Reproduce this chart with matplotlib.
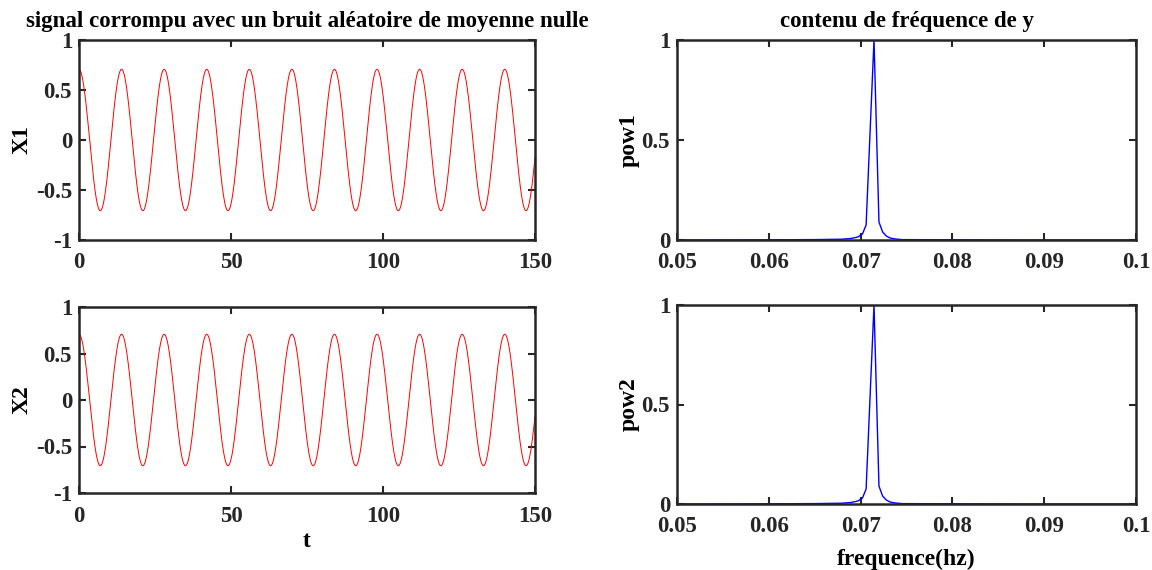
import numpy as np
import matplotlib
matplotlib.use("Agg")
import matplotlib.pyplot as plt

# ---- data ----
t_start, t_end, t_step = 0.0, 150.0, 0.05
amp1, freq1 = 0.707, 0.0714     # X1 sinusoid parameters
amp2, freq2 = 0.707, 0.0714     # X2 sinusoid parameters

spec_freq = [0.05, 0.060, 0.065, 0.068, 0.0690, 0.0697, 0.0702, 0.0706, 0.07146,
             0.0720, 0.0724, 0.0728, 0.0732, 0.0738, 0.0745, 0.080, 0.090, 0.1]
pow1 = [0.0, 0.001, 0.002, 0.004, 0.008, 0.015, 0.03, 0.075, 1.0,
        0.09, 0.04, 0.02, 0.01, 0.005, 0.002, 0.001, 0.0, 0.0]
pow2 = [0.0, 0.001, 0.002, 0.004, 0.008, 0.015, 0.03, 0.075, 1.0,
        0.09, 0.04, 0.02, 0.01, 0.005, 0.002, 0.001, 0.0, 0.0]

left_xticks = [0, 50, 100, 150]
left_yticks = [-1, -0.5, 0, 0.5, 1]
left_yticklabels = ["-1", "-0.5", "0", "0.5", "1"]
right_xticks = [0.05, 0.06, 0.07, 0.08, 0.09, 0.1]
right_xticklabels = ["0.05", "0.06", "0.07", "0.08", "0.09", "0.1"]
right_yticks = [0, 0.5, 1]
right_yticklabels = ["0", "0.5", "1"]

title_left = "signal corrompu avec un bruit aléatoire de moyenne nulle"
title_right = "contenu de fréquence de y"

t = np.arange(t_start, t_end + t_step / 2, t_step)
x1 = amp1 * np.cos(2 * np.pi * freq1 * t)
x2 = amp2 * np.cos(2 * np.pi * freq2 * t)

# ---- style ----
plt.rcParams['font.family'] = ['Liberation Serif', 'DejaVu Serif']
plt.rcParams['font.weight'] = 'bold'
axcol = '#262626'
TICK_FS = 16.5
LAB_FS = 17
TITLE_FS = 16.5

fig = plt.figure(figsize=(11.52, 5.7), dpi=100)
W, H = 1152, 570

def make_ax(x0, x1p, y0, y1p):
    return fig.add_axes([x0 / W, 1 - y1p / H, (x1p - x0) / W, (y1p - y0) / H])

ax1 = make_ax(79, 535, 40, 240)
ax2 = make_ax(79, 535, 307, 493)
ax3 = make_ax(677, 1136, 40, 240)
ax4 = make_ax(677, 1136, 305, 504)

def style(ax):
    for s in ax.spines.values():
        s.set_linewidth(1.8)
        s.set_color(axcol)
    ax.tick_params(direction='in', top=True, right=True, length=5, width=1.5,
                   colors=axcol, labelsize=TICK_FS)
    ax.tick_params(axis='y', pad=5)
    ax.tick_params(axis='x', pad=9)
    for lab in ax.get_xticklabels() + ax.get_yticklabels():
        lab.set_fontweight('bold')
        lab.set_color('#262626')

for ax, y, lab in [(ax1, x1, 'X1'), (ax2, x2, 'X2')]:
    ax.plot(t, y, color='red', lw=0.7)
    ax.set_xlim(0, 150)
    ax.set_ylim(-1, 1)
    ax.set_xticks(left_xticks)
    ax.set_yticks(left_yticks)
    ax.set_yticklabels(left_yticklabels)
    ax.set_ylabel(lab, fontsize=LAB_FS, fontweight='bold', labelpad=2)
    style(ax)

ax1.set_title(title_left, fontsize=TITLE_FS, fontweight='bold', pad=9)
ax2.set_xlabel('t', fontsize=LAB_FS, fontweight='bold', labelpad=3)

for ax, p, lab in [(ax3, pow1, 'pow1'), (ax4, pow2, 'pow2')]:
    ax.plot(spec_freq, p, color='blue', lw=1.0)
    ax.set_xlim(0.05, 0.1)
    ax.set_ylim(0, 1)
    ax.set_xticks(right_xticks)
    ax.set_xticklabels(right_xticklabels)
    ax.set_yticks(right_yticks)
    ax.set_yticklabels(right_yticklabels)
    ax.set_ylabel(lab, fontsize=LAB_FS, fontweight='bold', labelpad=1)
    style(ax)

ax3.set_title(title_right, fontsize=TITLE_FS, fontweight='bold', pad=9)
ax4.set_xlabel('frequence(hz)', fontsize=LAB_FS, fontweight='bold', labelpad=8)

fig.savefig('out.png', dpi=100)
